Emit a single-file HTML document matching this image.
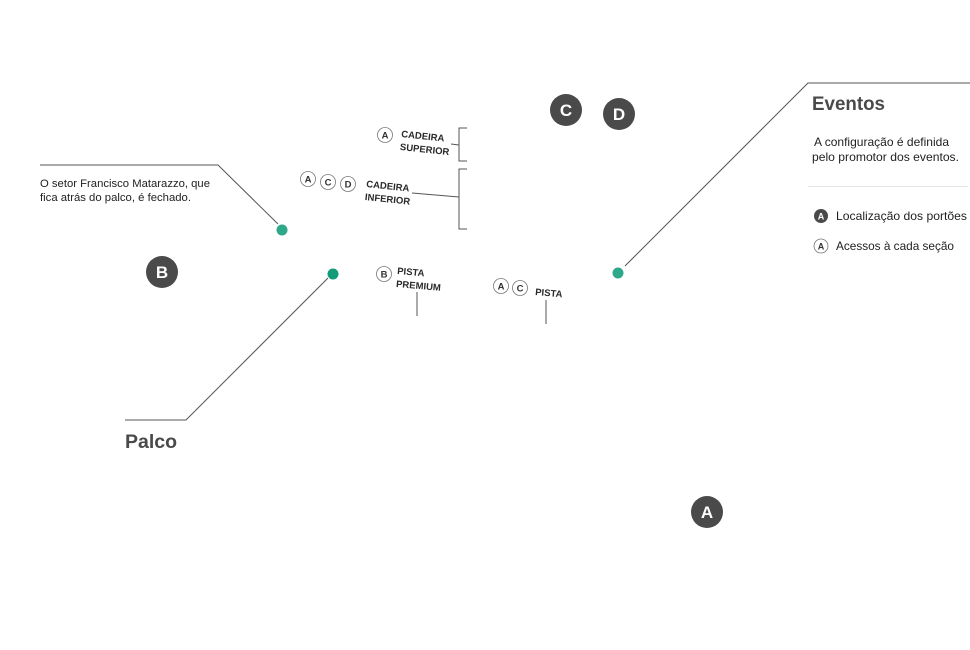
<!DOCTYPE html>
<html><head><meta charset="utf-8"><style>
html,body{margin:0;padding:0;background:#fff;}
svg{display:block;font-family:"Liberation Sans",sans-serif;}
</style></head><body>
<svg width="970" height="650" viewBox="0 0 970 650" xmlns="http://www.w3.org/2000/svg">
<rect width="970" height="650" fill="#fff"/>
<g fill="none" stroke="#555" stroke-width="1">
  <polyline points="40,165 218,165 278,224"/>
  <polyline points="125,420 186,420 328,278"/>
  <polyline points="625,266 808,83 970,83"/>
  <!-- brackets -->
  <polyline points="467,128 459,128 459,161 467,161"/>
  <line x1="451" y1="144" x2="459" y2="145"/>
  <polyline points="467,169 459,169 459,229 467,229"/>
  <line x1="412" y1="193" x2="459" y2="197"/>
  <line x1="417" y1="292" x2="417" y2="316"/>
  <line x1="546" y1="300" x2="546" y2="324"/>
</g>
<line x1="808" y1="186.5" x2="968" y2="186.5" stroke="#e6e6e6" stroke-width="1"/>

<!-- green dots -->
<circle cx="282" cy="230" r="5.5" fill="#2fa88a"/>
<circle cx="333" cy="274" r="5.5" fill="#129b78"/>
<circle cx="618" cy="273" r="5.5" fill="#2fa88a"/>

<!-- big gate circles -->
<g font-weight="bold" font-size="17" fill="#fff" text-anchor="middle">
  <circle cx="566" cy="110" r="16" fill="#4a4a4a"/><text x="566" y="116">C</text>
  <circle cx="619" cy="114" r="16" fill="#4a4a4a"/><text x="619" y="120">D</text>
  <circle cx="162" cy="272" r="16" fill="#4a4a4a"/><text x="162" y="278">B</text>
  <circle cx="707" cy="512" r="16" fill="#4a4a4a"/><text x="707" y="518">A</text>
</g>

<!-- small outlined circles -->
<g fill="#fff" stroke="#777" stroke-width="0.8">
  <circle cx="385" cy="135" r="7.5"/>
  <circle cx="308" cy="179" r="7.5"/>
  <circle cx="328" cy="182" r="7.5"/>
  <circle cx="348" cy="184" r="7.5"/>
  <circle cx="384" cy="274" r="7.5"/>
  <circle cx="501" cy="286" r="7.5"/>
  <circle cx="520" cy="288" r="7.5"/>
</g>
<g font-weight="bold" font-size="9.5" fill="#333" text-anchor="middle">
  <text x="385" y="138.5">A</text>
  <text x="308" y="182.5">A</text>
  <text x="328" y="185.5">C</text>
  <text x="348" y="187.5">D</text>
  <text x="384" y="277.5">B</text>
  <text x="501" y="289.5">A</text>
  <text x="520" y="291.5">C</text>
</g>

<!-- section labels -->
<g font-weight="bold" font-size="9.5" fill="#2a2a2a">
  <g transform="rotate(6 401 137)">
    <text x="401" y="137">CADEIRA</text>
    <text x="401" y="150">SUPERIOR</text>
  </g>
  <g transform="rotate(6 366 187)">
    <text x="366" y="187">CADEIRA</text>
    <text x="366" y="200">INFERIOR</text>
  </g>
  <g transform="rotate(5 397 274)">
    <text x="397" y="274">PISTA</text>
    <text x="397" y="287">PREMIUM</text>
  </g>
  <g transform="rotate(5 535 295)">
    <text x="535" y="295">PISTA</text>
  </g>
</g>

<!-- left annotation -->
<g font-size="11" fill="#222">
  <text x="40" y="187" textLength="170" lengthAdjust="spacingAndGlyphs">O setor Francisco Matarazzo, que</text>
  <text x="40" y="201" textLength="151" lengthAdjust="spacingAndGlyphs">fica atrás do palco, é fechado.</text>
</g>

<text x="125" y="448" font-size="19" font-weight="bold" fill="#4a4a4a" textLength="52" lengthAdjust="spacingAndGlyphs">Palco</text>

<!-- right panel -->
<text x="812" y="110" font-size="19" font-weight="bold" fill="#4a4a4a" textLength="73" lengthAdjust="spacingAndGlyphs">Eventos</text>
<g font-size="12" fill="#222">
  <text x="814" y="146" textLength="135" lengthAdjust="spacingAndGlyphs">A configuração é definida</text>
  <text x="812" y="161" textLength="147" lengthAdjust="spacingAndGlyphs">pelo promotor dos eventos.</text>
</g>
<circle cx="821" cy="216" r="7" fill="#4a4a4a"/>
<text x="821" y="219.5" font-size="9" font-weight="bold" fill="#fff" text-anchor="middle">A</text>
<circle cx="821" cy="246" r="7" fill="#fff" stroke="#777" stroke-width="0.8"/>
<text x="821" y="249.5" font-size="9" font-weight="bold" fill="#333" text-anchor="middle">A</text>
<g font-size="12" fill="#222">
  <text x="836" y="220" textLength="131" lengthAdjust="spacingAndGlyphs">Localização dos portões</text>
  <text x="836" y="250" textLength="118" lengthAdjust="spacingAndGlyphs">Acessos à cada seção</text>
</g>
</svg>
</body></html>
